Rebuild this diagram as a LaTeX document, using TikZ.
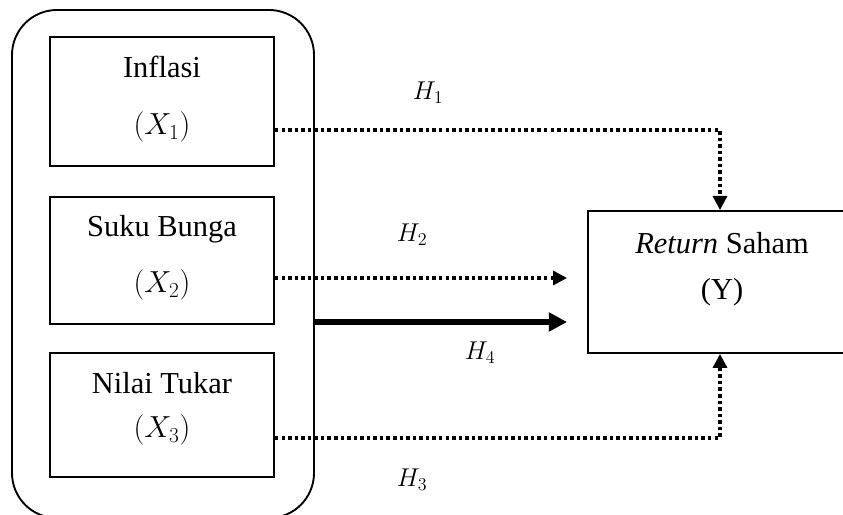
\documentclass[tikz,border=0pt]{standalone}
\usepackage{fix-cm}
\usepackage{amsmath}
\usepackage{fontspec}
\setmainfont{Liberation Serif}
\usetikzlibrary{arrows.meta,calc}
\tikzstyle{texto}=[inner sep=0pt,font=\fontsize{26}{30}\selectfont]
\tikzstyle{etiqueta}=[inner sep=0pt,font=\fontsize{22}{26}\selectfont]
\tikzstyle{caja}=[draw,line width=1.6pt,inner sep=0pt]
\tikzstyle{punteado}=[line width=2.6pt,dash pattern=on 3pt off 2.6pt,-{Triangle[length=12pt,width=12pt]}]

\begin{document}
\begin{tikzpicture}[x=0.03cm,y=-0.03cm]
    \useasboundingbox (0,0) rectangle (843,515);
    \clip (0,0) rectangle (843,515);
    \node [caja,rounded corners=1.35cm,minimum width=9.06cm,minimum height=15.24cm] (grupo) at (163,264) {};
    \node [caja,minimum width=6.72cm,minimum height=3.87cm] (inf) at (162,101.5) {};
    \node [caja,minimum width=6.72cm,minimum height=3.81cm] (suku) at (162,260.5) {};
    \node [caja,minimum width=6.72cm,minimum height=3.72cm] (nilai) at (162,415) {};
    \node [caja,minimum width=7.92cm,minimum height=4.26cm] (ret) at (720,282) {};
    \node [texto] (t1) at (162,67) {Inflasi};
    \node [texto] (x1) at (162,127) {$(X_1)$};
    \node [texto] (t2) at (162,229) {Suku Bunga};
    \node [texto] (x2) at (162,285) {$(X_2)$};
    \node [texto] (t3) at (162,383) {Nilai Tukar};
    \node [texto] (x3) at (162,430) {$(X_3)$};
    \node [texto] (ty) at (722,243) {\textit{Return} Saham};
    \node [texto] (y) at (722,292) {(Y)};
    \node [etiqueta] (h1) at (428,93) {$H_1$};
    \node [etiqueta] (h2) at (412,235) {$H_2$};
    \node [etiqueta] (h4) at (480,353) {$H_4$};
    \node [etiqueta] (h3) at (412,480) {$H_3$};
    \draw [punteado] ($(inf.east)+(0,28.5)$) -| (ret.north);
    \draw [punteado] ($(suku.east)+(0,17.5)$) -- ($(ret.west)+(-20,-4)$);
    \draw [line width=4.3pt,-{Triangle[length=15.5pt,width=15.5pt]}] ($(grupo.east)+(0,58)$) -- ($(ret.west)+(-20,40)$);
    \draw [punteado] ($(nilai.east)+(0,23)$) -| (ret.south);
\end{tikzpicture}
\end{document}
